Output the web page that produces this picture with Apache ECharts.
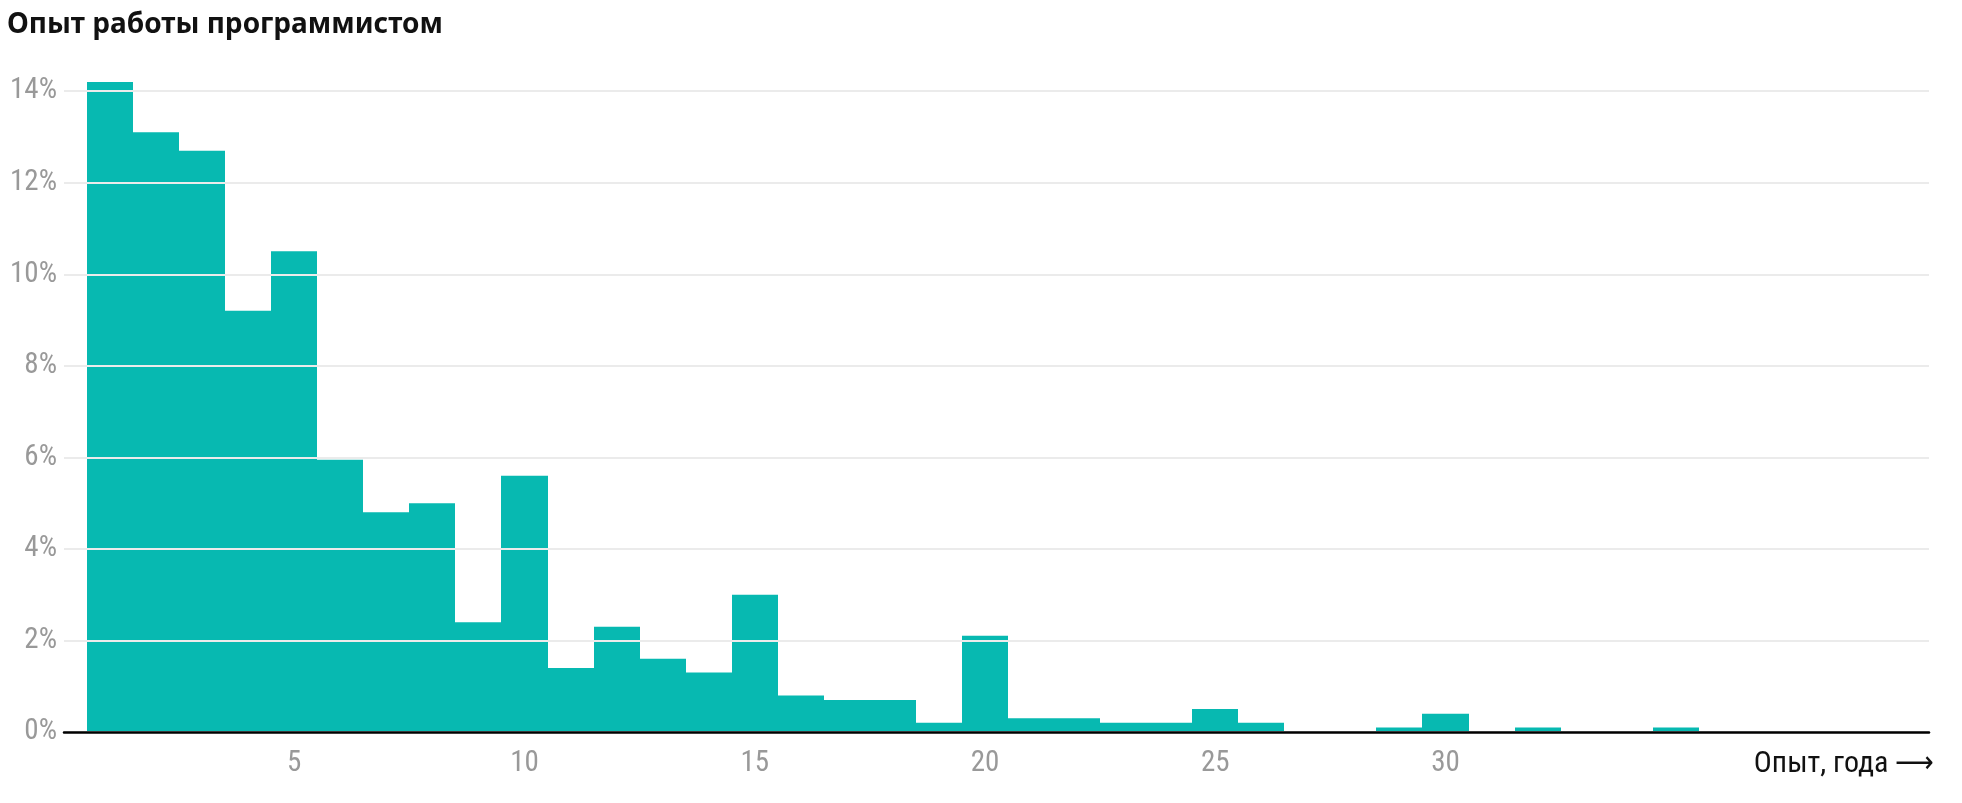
<!DOCTYPE html>
<html>
<head>
<meta charset="utf-8">
<script src="https://cdn.jsdelivr.net/npm/echarts@6/dist/echarts.min.js"></script>
<style>
  html, body { margin: 0; padding: 0; background: #fff; }
  #chart { width: 1962px; height: 803px; }
</style>
</head>
<body>
<div id="chart"></div>
<script>
// ---- data ----
const titleText = 'Опыт работы программистом';
const xAxisName = 'Опыт, года \u27F6';
const years = [1,2,3,4,5,6,7,8,9,10,11,12,13,14,15,16,17,18,19,20,21,22,23,24,25,26,27,28,29,30,31,32,33,34,35,36,37,38,39,40];
const shares = [14.2,13.1,12.7,9.2,10.5,5.95,4.8,5.0,2.4,5.6,1.4,2.3,1.6,1.3,3.0,0.8,0.7,0.7,0.2,2.1,0.3,0.3,0.2,0.2,0.5,0.2,0,0,0.1,0.4,0,0.1,0,0,0.1,0,0,0,0,0];
const xTickLabels = [5,10,15,20,25,30];
const yTickLabels = [0,2,4,6,8,10,12,14];

const labelFont = '"Roboto Condensed", "DejaVu Sans Condensed", sans-serif';
const chart = echarts.init(document.getElementById('chart'), null, { renderer: 'canvas' });

const dataPairs = years.map((y, i) => [y, shares[i]]);

chart.setOption({
  animation: false,
  backgroundColor: '#ffffff',
  title: {
    text: titleText,
    left: 2,
    top: 6,
    textStyle: { fontFamily: '"Noto Sans", sans-serif', fontWeight: 'bold', fontSize: 28, color: '#111' }
  },
  grid: { left: 64, right: 33, top: 82, bottom: 71, containLabel: false },
  xAxis: {
    type: 'value',
    min: 0,
    max: 40.5,
    interval: 5,
    splitLine: { show: false },
    axisTick: { show: false },
    axisLine: { show: true, onZero: false, lineStyle: { color: '#000', width: 2.5 } },
    axisLabel: {
      margin: 17,
      showMinLabel: false,
      showMaxLabel: false,
      fontFamily: labelFont,
      fontSize: 29,
      color: '#999999',
      formatter: v => (xTickLabels.indexOf(v) >= 0 ? String(v) : '')
    },
    name: xAxisName,
    nameLocation: 'end',
    nameGap: 5,
    nameTextStyle: {
      fontFamily: labelFont,
      fontSize: 30,
      color: '#111',
      align: 'right',
      verticalAlign: 'top',
      padding: [17, 0, 0, 0]
    }
  },
  yAxis: {
    type: 'value',
    min: 0,
    max: Math.max(...shares),
    interval: 2,
    axisLine: { show: false },
    axisTick: { show: false },
    splitLine: { show: true, showMaxLine: false, lineStyle: { color: '#ebebeb', width: 2 } },
    axisLabel: {
      margin: 7,
      showMaxLabel: false,
      fontFamily: labelFont,
      fontSize: 29,
      color: '#999999',
      formatter: v => (yTickLabels.indexOf(v) >= 0 ? v + '%' : '')
    }
  },
  series: [{
    type: 'custom',
    z: -1,
    data: dataPairs,
    encode: { x: 0, y: 1 },
    renderItem: function (params, api) {
      const yr = api.value(0), val = api.value(1);
      const p0 = api.coord([yr - 0.5, val]);
      const p1 = api.coord([yr + 0.5, 0]);
      const x0 = Math.round(p0[0]), x1 = Math.round(p1[0]);
      return {
        type: 'rect',
        shape: { x: x0, y: p0[1], width: x1 - x0, height: p1[1] - p0[1] },
        style: { fill: '#07b9b1' }
      };
    }
  }]
});
</script>
</body>
</html>
